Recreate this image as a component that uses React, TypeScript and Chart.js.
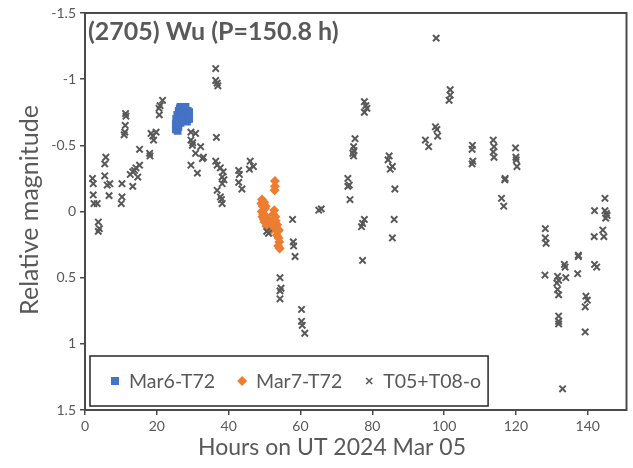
import React, { useEffect, useRef } from 'react';
import { Chart, registerables } from 'chart.js';

Chart.register(...registerables);

const FONT = 'Lato, "Open Sans", sans-serif';
const TEXT_COLOR = '#595959';

const chartTitle = '(2705) Wu (P=150.8 h)';
const xAxisTitle = 'Hours on UT 2024 Mar 05';
const yAxisTitle = 'Relative magnitude';

const xTicks = [0, 20, 40, 60, 80, 100, 120, 140];
const yTicks = [-1.5, -1, -0.5, 0, 0.5, 1, 1.5];
const yTickLabels = ['-1.5', '-1', '-0.5', '0', '0.5', '1', '1.5'];

const seriesLabels = ['Mar6-T72', 'Mar7-T72', 'T05+T08-o'];
const seriesColors = ['#4472C4', '#ED7D31', '#595959'];

const blueHours = [25.3, 25.3, 25.4, 25.5, 25.6, 25.7, 25.8, 25.9, 26.0, 26.1, 26.2, 26.3, 26.4, 26.5, 26.6, 26.8, 26.9, 27.0, 27.2, 27.3, 27.5, 27.6, 27.8, 27.9, 28.0, 28.2, 28.3, 28.4, 28.5, 28.6, 28.7, 28.8, 26.0, 26.6, 27.4, 29.0, 29.0];
const blueMags = [-0.62, -0.66, -0.70, -0.64, -0.68, -0.73, -0.61, -0.66, -0.71, -0.76, -0.69, -0.74, -0.78, -0.72, -0.79, -0.75, -0.79, -0.73, -0.77, -0.79, -0.74, -0.78, -0.72, -0.76, -0.79, -0.70, -0.74, -0.68, -0.72, -0.76, -0.70, -0.73, -0.64, -0.67, -0.70, -0.75, -0.70];

const orangeHours = [49.1, 49.3, 49.5, 49.2, 49.6, 49.9, 50.1, 49.4, 49.8, 50.2, 50.0, 50.3, 50.6, 50.9, 51.2, 51.5, 51.8, 52.1, 52.4, 52.7, 53.0, 52.8, 53.2, 53.5, 53.7, 53.4, 53.9, 54.1, 53.8, 54.2, 52.9, 52.9, 52.8, 52.5, 53.1, 54.0, 50.5];
const orangeMags = [-0.06, -0.09, -0.04, 0.0, 0.02, -0.07, -0.02, 0.04, 0.06, 0.03, 0.08, -0.04, 0.05, 0.10, 0.07, 0.12, 0.14, 0.09, 0.02, -0.01, 0.04, 0.09, 0.12, 0.10, 0.15, 0.18, 0.20, 0.23, 0.26, 0.28, -0.23, -0.19, -0.16, 0.06, 0.07, 0.14, 0.11];

const grayHours = [
  2.1, 2.3, 2.3, 2.5, 3.4, 3.7, 3.7, 4.0, 5.8, 5.5, 5.5, 6.2, 6.9, 6.7,
  11.3, 11.4, 11.2, 10.9, 11.1, 10.3, 10.3, 10.1, 12.6, 13.3, 13.8, 15.2, 14.7, 13.3, 15.2, 14.2,
  18.0, 18.1, 18.4, 18.9, 19.8, 19.1, 20.7, 20.9, 21.6, 20.6,
  29.5, 30.8, 29.5, 29.9, 32.2, 30.8, 32.7, 29.5, 31.3, 30.0, 33.0,
  36.4, 36.4, 36.8, 37.0, 36.6, 36.4, 36.8, 37.7, 38.5, 38.2, 38.7, 38.2, 36.8, 37.7, 38.0, 38.2,
  42.8, 43.0, 42.8, 43.7, 46.0, 46.9, 45.8,
  57.8, 58.0, 58.1, 58.5, 50.6, 51.1, 54.3, 54.6, 54.3, 54.3, 60.3, 60.3, 60.5, 61.2, 65.1, 65.8,
  77.8, 78.2, 78.5, 77.8, 75.2, 74.8, 74.9, 74.6, 74.8, 73.2, 73.6, 73.2, 73.8, 77.8, 77.3, 77.0, 77.3,
  84.7, 84.4, 85.6, 85.0, 86.3, 86.1, 85.6,
  94.8, 95.7, 97.6, 98.0, 98.2, 97.8, 101.7, 101.7, 101.4,
  107.9, 107.8, 108.0, 107.8, 113.7, 113.9, 113.7, 113.9, 119.9, 120.0, 120.1, 120.3, 116.9, 117.0, 116.0, 116.6,
  144.8, 141.9, 144.8, 145.2, 145.0, 145.4, 141.8, 144.2, 144.5, 128.2, 128.2, 128.4, 128.1,
  137.4, 137.4, 133.5, 133.7, 141.9, 142.5, 131.6, 131.9, 131.4, 133.9, 131.6, 131.9, 137.2,
  139.5, 139.9, 139.3, 131.9, 131.9, 131.9, 139.3, 133.0,
];
const grayMags = [
  -0.25, -0.21, -0.125, -0.06, -0.06, 0.08, 0.15, 0.13, -0.41, -0.36, -0.27, -0.20, -0.21, -0.12,
  -0.74, -0.72, -0.65, -0.58, -0.60, -0.21, -0.11, -0.06, -0.28, -0.30, -0.31, -0.35, -0.26, -0.19, -0.47, -0.33,
  -0.44, -0.42, -0.59, -0.57, -0.60, -0.54, -0.73, -0.80, -0.84, -0.78,
  -0.60, -0.59, -0.54, -0.50, -0.49, -0.44, -0.40, -0.35, -0.29, -0.52, -0.41,
  -1.08, -0.99, -0.97, -0.95, -0.56, -0.38, -0.35, -0.33, -0.30, -0.26, -0.24, -0.21, -0.16, -0.11, -0.09, -0.06,
  -0.31, -0.28, -0.22, -0.17, -0.38, -0.34, -0.32,
  0.06, 0.23, 0.26, 0.34, 0.15, 0.165, 0.50, 0.58, 0.60, 0.66, 0.74, 0.83, 0.86, 0.92, -0.01, -0.02,
  -0.83, -0.80, -0.78, -0.75, -0.55, -0.49, -0.46, -0.44, -0.42, -0.25, -0.20, -0.19, -0.09, 0.06, 0.09, 0.115, 0.37,
  -0.42, -0.39, -0.34, -0.32, -0.17, 0.06, 0.20,
  -0.54, -0.49, -0.64, -0.62, -0.57, -1.31, -0.92, -0.88, -0.84,
  -0.50, -0.47, -0.38, -0.36, -0.54, -0.49, -0.45, -0.41, -0.48, -0.41, -0.39, -0.34, -0.24, -0.25, -0.10, -0.04,
  -0.10, -0.006, -0.006, 0.014, 0.05, 0.03, 0.19, 0.14, 0.19, 0.13, 0.20, 0.24, 0.48,
  0.33, 0.34, 0.40, 0.42, 0.40, 0.42, 0.49, 0.52, 0.54, 0.50, 0.59, 0.63, 0.47,
  0.64, 0.67, 0.72, 0.79, 0.83, 0.85, 0.91, 1.34,
];

const toPoints = (xs: number[], ys: number[]) => xs.map((x, i) => ({ x, y: ys[i] }));

const decorPlugin = {
  id: 'decor',
  afterDraw(chart: any) {
    const { ctx, chartArea } = chart;
    const { left, top, right, bottom } = chartArea;
    ctx.save();
    // plot frame
    ctx.strokeStyle = '#4a4a4a';
    ctx.lineWidth = 2;
    ctx.strokeRect(left, top, right - left, bottom - top);

    // chart title inside plot area
    ctx.fillStyle = TEXT_COLOR;
    ctx.font = `bold 25px ${FONT}`;
    ctx.textAlign = 'left';
    ctx.textBaseline = 'middle';
    ctx.fillText(chartTitle, 88, 32);

    // axis titles
    ctx.font = `23px ${FONT}`;
    ctx.textAlign = 'center';
    ctx.fillText(xAxisTitle, 332, 448);
    ctx.save();
    ctx.font = `25px ${FONT}`;
    ctx.translate(30, 210);
    ctx.rotate(-Math.PI / 2);
    ctx.fillText(yAxisTitle, 0, 0);
    ctx.restore();

    // legend box
    ctx.font = `19.5px ${FONT}`;
    const boxX = 90, boxY = 356, boxH = 50;
    const cy = boxY + boxH / 2;
    let x = 115;
    const gap = 27;
    const items: { mx: number; tx: number }[] = [];
    seriesLabels.forEach((label) => {
      const w = ctx.measureText(label).width;
      items.push({ mx: x, tx: x + 14 });
      x = x + 14 + w + gap;
    });
    const boxR = x - gap + 7;
    ctx.fillStyle = '#ffffff';
    ctx.fillRect(boxX, boxY, boxR - boxX, boxH);
    ctx.strokeStyle = '#262626';
    ctx.lineWidth = 1.5;
    ctx.strokeRect(boxX, boxY, boxR - boxX, boxH);
    items.forEach((it, i) => {
      if (i === 0) {
        ctx.fillStyle = seriesColors[0];
        ctx.fillRect(it.mx - 4, cy - 4, 8, 8);
      } else if (i === 1) {
        ctx.fillStyle = seriesColors[1];
        ctx.beginPath();
        ctx.moveTo(it.mx, cy - 5);
        ctx.lineTo(it.mx + 5, cy);
        ctx.lineTo(it.mx, cy + 5);
        ctx.lineTo(it.mx - 5, cy);
        ctx.closePath();
        ctx.fill();
      } else {
        ctx.strokeStyle = seriesColors[2];
        ctx.lineWidth = 1.6;
        ctx.beginPath();
        ctx.moveTo(it.mx - 3, cy - 3);
        ctx.lineTo(it.mx + 3, cy + 3);
        ctx.moveTo(it.mx + 3, cy - 3);
        ctx.lineTo(it.mx - 3, cy + 3);
        ctx.stroke();
      }
      ctx.fillStyle = TEXT_COLOR;
      ctx.textAlign = 'left';
      ctx.textBaseline = 'middle';
      ctx.fillText(seriesLabels[i], it.tx, cy + 1);
    });
    ctx.restore();
  },
};

export default function App() {
  const ref = useRef<HTMLCanvasElement | null>(null);
  useEffect(() => {
    document.body.style.margin = '0';
    const canvas = ref.current;
    if (!canvas) return;
    const chart = new Chart(canvas, {
      type: 'scatter',
      data: {
        datasets: [
          {
            label: seriesLabels[0],
            data: toPoints(blueHours, blueMags),
            pointStyle: 'rect',
            pointRadius: 5.5,
            backgroundColor: seriesColors[0],
            borderColor: seriesColors[0],
            borderWidth: 0,
            order: 2,
          },
          {
            label: seriesLabels[1],
            data: toPoints(orangeHours, orangeMags),
            pointStyle: 'rectRot',
            pointRadius: 5,
            backgroundColor: seriesColors[1],
            borderColor: seriesColors[1],
            borderWidth: 0,
            order: 1,
          },
          {
            label: seriesLabels[2],
            data: toPoints(grayHours, grayMags),
            pointStyle: 'crossRot',
            pointRadius: 4.5,
            backgroundColor: seriesColors[2],
            borderColor: seriesColors[2],
            borderWidth: 2,
            order: 0,
          },
        ],
      },
      options: {
        responsive: false,
        animation: false,
        layout: { padding: { top: 13, right: 2, left: 0, bottom: 0 } },
        plugins: { legend: { display: false }, tooltip: { enabled: false }, title: { display: false } },
        scales: {
          x: {
            type: 'linear',
            min: 0,
            max: 150.8,
            afterBuildTicks: (s: any) => {
              s.ticks = xTicks.map((v) => ({ value: v }));
            },
            afterFit: (s: any) => {
              s.height = 58;
            },
            grid: { drawOnChartArea: false, drawTicks: true, tickLength: 5, color: '#4a4a4a', lineWidth: 1.5 },
            border: { display: false },
            ticks: { color: TEXT_COLOR, font: { family: FONT, size: 14 }, padding: 3, maxRotation: 0 },
          },
          y: {
            type: 'linear',
            reverse: true,
            min: -1.5,
            max: 1.5,
            afterBuildTicks: (s: any) => {
              s.ticks = yTicks.map((v) => ({ value: v }));
            },
            afterFit: (s: any) => {
              s.width = 85;
            },
            grid: { drawOnChartArea: false, drawTicks: true, tickLength: 5, color: '#4a4a4a', lineWidth: 1.5 },
            border: { display: false },
            ticks: {
              color: TEXT_COLOR,
              font: { family: FONT, size: 14 },
              padding: 4,
              callback: (_v: any, i: number) => yTickLabels[i],
            },
          },
        },
      },
      plugins: [decorPlugin],
    });
    return () => chart.destroy();
  }, []);
  return (
    <div style={{ width: 633, height: 468 }}>
      <canvas ref={ref} width={633} height={468} style={{ display: 'block' }} />
    </div>
  );
}
